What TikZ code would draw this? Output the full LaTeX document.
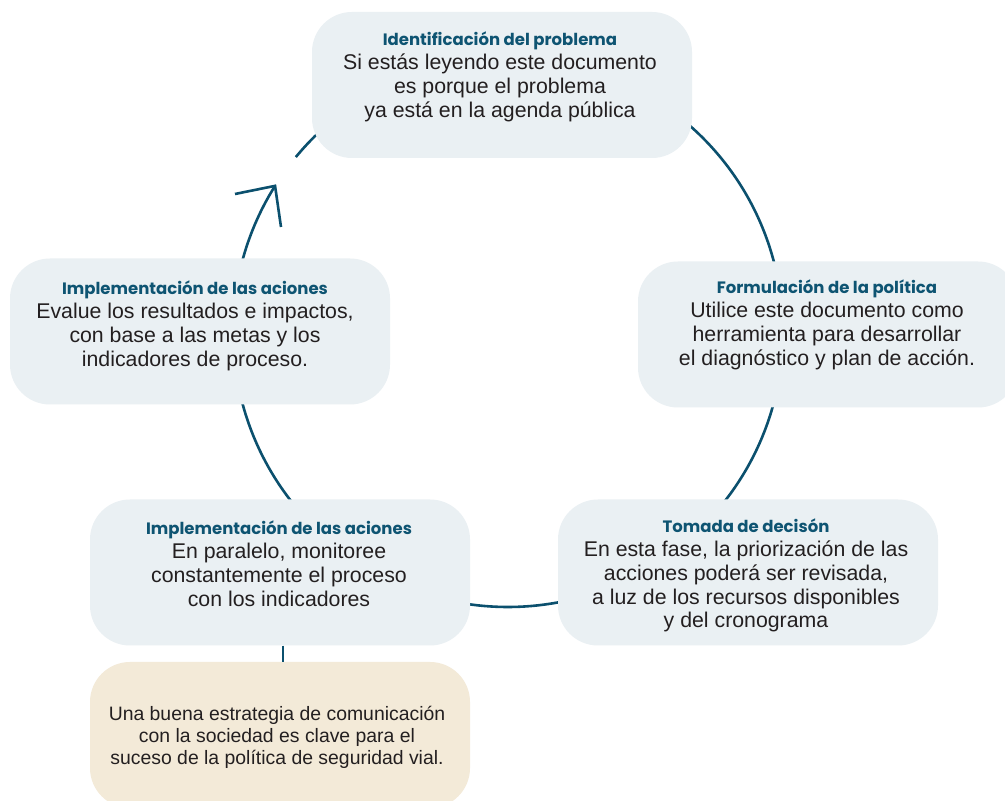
\documentclass[tikz,border=0pt]{standalone}
\usepackage{fontspec}
\setmainfont{Liberation Sans}
\newfontfamily\titlefont{Poppins}
\usetikzlibrary{calc}
\definecolor{boxfill}{RGB}{234,240,243}
\definecolor{beigefill}{RGB}{243,234,216}
\definecolor{linecol}{RGB}{11,80,110}
\definecolor{titlecol}{RGB}{14,84,114}
\definecolor{bodycol}{RGB}{35,31,32}
\newcommand{\ttl}[1]{{\titlefont\bfseries\fontsize{16.5}{24}\selectfont\color{titlecol}#1}}
\setlength{\tabcolsep}{0pt}
\begin{document}
\begin{tikzpicture}[x=1pt,y=1pt,
  box/.style={rectangle, rounded corners=40pt, minimum width=380pt, minimum height=146pt, fill=boxfill, inner sep=0pt},
  note/.style={box, fill=beigefill},
  txt/.style={anchor=base, inner sep=0pt, text=bodycol, font=\fontsize{21.3}{23.7}\selectfont},
  small/.style={anchor=base, inner sep=0pt, text=bodycol, font=\fontsize{19.4}{21.7}\selectfont},
  cyc/.style={draw=linecol, line width=2.6pt}]
\useasboundingbox (0,0) rectangle (1005,801);
\fill[white] (0,0) rectangle (1005,801);
\clip (0,0) rectangle (1005,801);
% cycle circle
\coordinate (O) at (508,469);
\coordinate (start) at ($(O)+(140.5:275)$);
\coordinate (tip) at ($(O)+(147.9:275)$);
\coordinate (barbA) at (235,607);
\coordinate (barbB) at (281,574);
\draw[cyc] (start) arc[start angle=140.5, end angle=-212.1, radius=275];
\draw[cyc, line join=miter] (barbA) -- (tip) -- (barbB);
% boxes
\node[box] (top) at (502,716) {};
\node[box] (right) at (828,466.5) {};
\node[box] (left) at (200,469.5) {};
\node[box] (bl) at (280,228.5) {};
\node[box] (br) at (748,228.5) {};
\node[note] (beige) at (280,66) {};
\draw[cyc] ($(bl.south)+(3,0)$) -- ($(beige.north)+(3,0)$);
% texts
\node[txt] (ttop) at (500,755) {\begin{tabular}[t]{c}\ttl{Identificación del problema}\\ Si estás leyendo este documento\\ es porque el problema\\ ya está en la agenda pública\end{tabular}};
\node[txt] (tright) at (827,507) {\begin{tabular}[t]{c}\ttl{Formulación de la política}\\ Utilice este documento como\\ herramienta para desarrollar\\ el diagnóstico y plan de acción.\end{tabular}};
\node[txt] (tleft) at (195,506) {\begin{tabular}[t]{c}\ttl{Implementación de las aciones}\\ Evalue los resultados e impactos,\\ con base a las metas y los\\ indicadores de proceso.\end{tabular}};
\node[txt] (tbl) at (279,266) {\begin{tabular}[t]{c}\ttl{Implementación de las aciones}\\ En paralelo, monitoree\\ constantemente el proceso\\ con los indicadores\end{tabular}};
\node[txt] (tbr) at (746,268) {\begin{tabular}[t]{c}\ttl{Tomada de decisón}\\ En esta fase, la priorización de las\\ acciones poderá ser revisada,\\ a luz de los recursos disponibles\\ y del cronograma\end{tabular}};
\node[small] (tbeige) at (277,80) {\begin{tabular}[t]{c}Una buena estrategia de comunicación\\ con la sociedad es clave para el\\ suceso de la política de seguridad vial.\end{tabular}};
\end{tikzpicture}
\end{document}
